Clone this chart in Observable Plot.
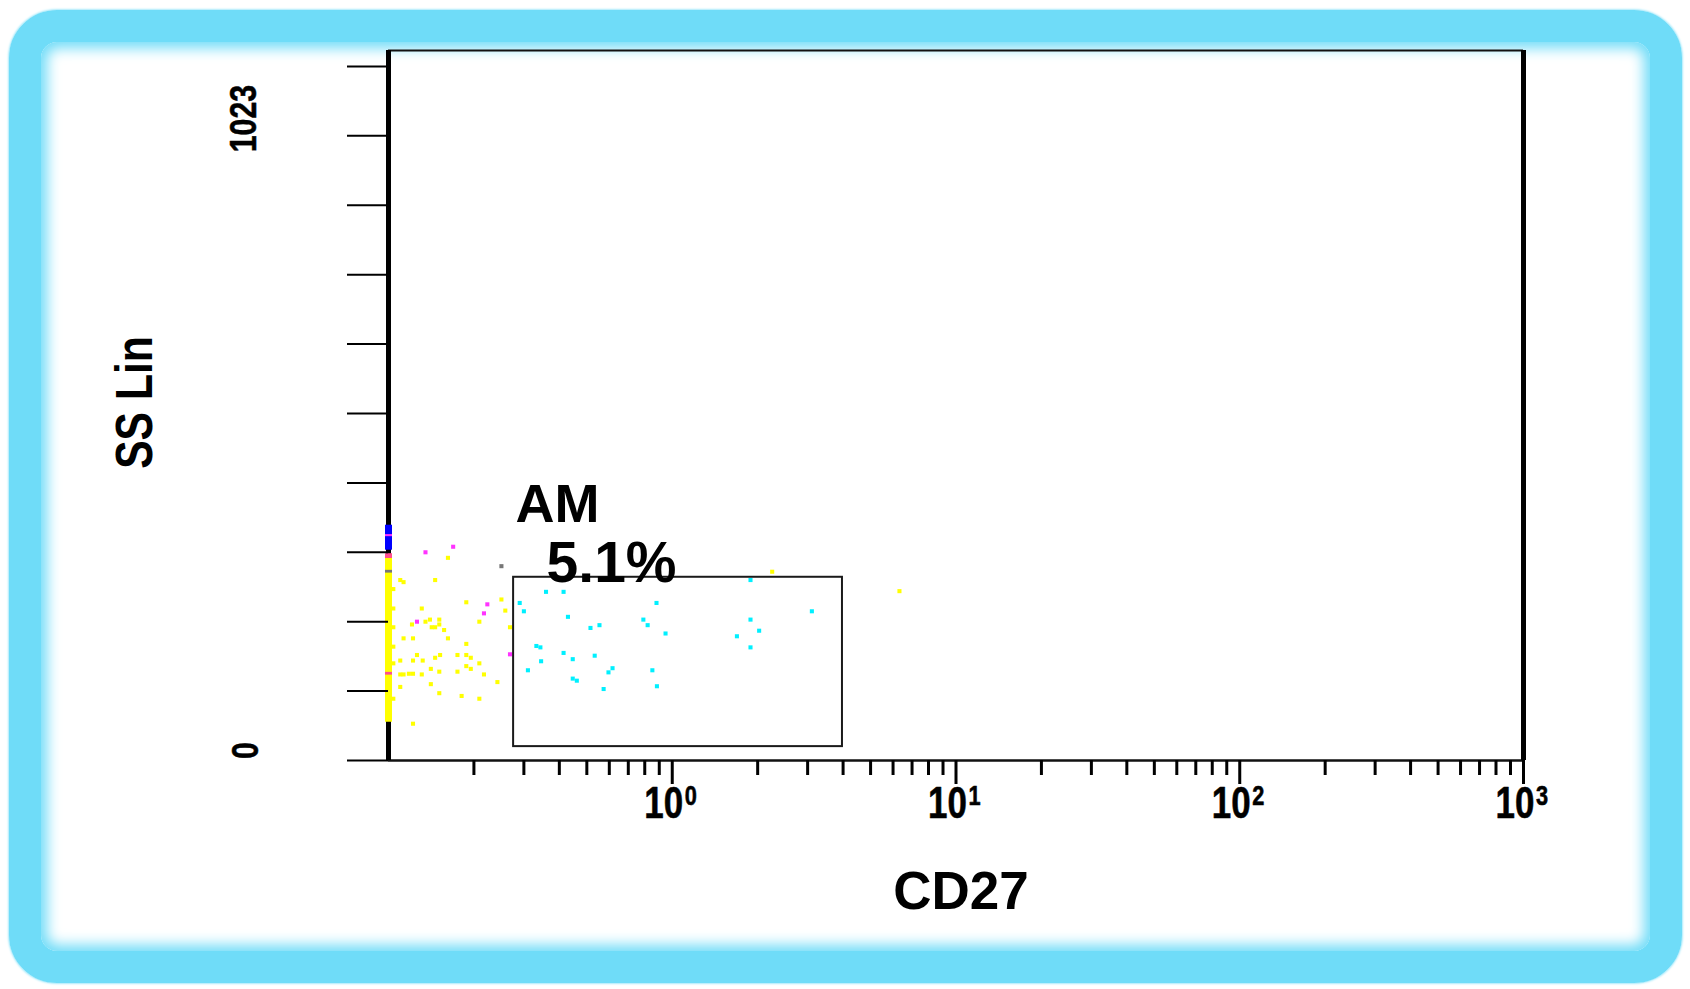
<!DOCTYPE html>
<html>
<head>
<meta charset="utf-8">
<script src="https://cdn.jsdelivr.net/npm/d3@7"></script>
<script src="https://cdn.jsdelivr.net/npm/@observablehq/plot@0.6"></script>
<style>
  html, body { margin: 0; padding: 0; background: #ffffff; }
  #wrap { position: relative; width: 1690px; height: 989px; overflow: hidden; background: #ffffff; }
  #border {
    position: absolute; left: 9px; top: 10px; width: 1673px; height: 973px;
    box-sizing: border-box; border: 32px solid #6fdcf8; border-radius: 48px;
    box-shadow: inset 0 0 14px 6px #6fdcf8, 0 0 2px 1px #a8eafb;
  }
  #chart { position: absolute; left: 0; top: 0; }
</style>
</head>
<body>
<div id="wrap"><div id="border"></div><div id="chart"></div></div>
<script>
// ---------- data ----------
const xLabel = "CD27";
const yLabel = "SS Lin";
const xDomain = [0.1, 1000];
const yDomain = [0, 1023];
const yTicks = [0, 100, 200, 300, 400, 500, 600, 700, 800, 900, 1000];
const yTickLabelLow = [0];
const yTickLabelHigh = [1023];
const decades = [1, 10, 100, 1000];
const exponents = ["0", "1", "2", "3"];
const minorBases = [0.1, 1, 10, 100];
const minorSteps = [2, 3, 4, 5, 6, 7, 8, 9];

// gate
const gates = [{name: "AM", pct: "5.1%", x1: 0.276, x2: 3.98, y1: 20, y2: 264}];

// events [CD27, SS Lin]
const yellowEvents = [
  [0.162,292],[0.110,260],[0.113,257],[0.146,260],[0.104,247],[0.188,228],[0.250,232],[0.258,216],
  [0.131,219],[0.104,219],[0.140,203],[0.135,200],[0.151,203],[0.121,196],[0.142,192],[0.146,192],
  [0.151,196],[0.157,188],[0.209,200],[0.268,192],[0.104,192],[0.113,176],[0.122,176],[0.162,176],
  [0.188,168],[0.104,164],[0.126,152],[0.146,148],[0.152,152],[0.175,152],[0.188,152],[0.195,148],
  [0.110,144],[0.122,144],[0.132,144],[0.209,140],[0.104,140],[0.141,132],[0.151,128],[0.175,128],
  [0.188,136],[0.195,132],[0.217,124],[0.110,124],[0.113,124],[0.118,125],[0.122,125],[0.131,124],
  [0.110,106],[0.141,110],[0.242,113],[0.104,89],[0.151,97],[0.181,93],[0.209,89],[0.122,53],
  [2.25,272],[6.32,244]
];
const cyanEvents = [
  [0.359,243],[0.414,243],[0.290,227],[0.300,215],[0.429,207],[0.880,227],[1.887,260],[3.105,215],
  [0.515,191],[0.554,195],[0.791,203],[0.819,195],[0.947,183],[1.887,203],[2.024,187],[1.690,179],
  [1.887,163],[0.332,165],[0.343,163],[0.414,155],[0.446,146],[0.533,151],[0.345,143],[0.310,130],
  [0.446,118],[0.461,115],[0.596,127],[0.616,133],[0.851,130],[0.883,107],[0.573,103]
];
const magentaEvents = [[0.135,300],[0.169,308],[0.223,225],[0.217,212],[0.126,200],[0.268,153]];
const greyEvents = [[0.250,280]];

// events piled on the CD27 minimum (on-axis), as SS Lin ranges
const axisPile = [
  {pop: "P1", y1: 55, y2: 291},
  {pop: "P3", y1: 303, y2: 339},
  {pop: "P2", y1: 322.5, y2: 325.5},
  {pop: "P4", y1: 291, y2: 298},
  {pop: "P5", y1: 270, y2: 274},
  {pop: "P4", y1: 123, y2: 127}
];

const popNames = ["P1", "AM", "P2", "P3", "P4", "P5"];
const popColors = ["#ffff00", "#00f0ff", "#ff33ff", "#0000ff", "#ff4f8f", "#777777"];

// ---------- chart ----------
const minorTicks = minorBases.flatMap(b => minorSteps.map(s => b * s));
const font = "'Liberation Sans', Arial, Helvetica, sans-serif";

const toPts = (arr, pop) => arr.map(([x, y]) => ({x, y, pop}));
const events = [
  ...toPts(yellowEvents, "P1"),
  ...toPts(magentaEvents, "P2"),
  ...toPts(greyEvents, "P5"),
  ...toPts(cyanEvents, "AM")
];

const chart = Plot.plot({
  width: 1690,
  height: 989,
  marginLeft: 388,
  marginRight: 167,
  marginTop: 50,
  marginBottom: 229,
  style: {background: "transparent", color: "#000", overflow: "visible", fontFamily: font},
  x: {type: "log", domain: xDomain},
  y: {domain: yDomain},
  color: {domain: popNames, range: popColors},
  marks: [
    // gate
    Plot.rect(gates, {x1: "x1", x2: "x2", y1: "y1", y2: "y2", fill: "none", stroke: "#1a1a1a", strokeWidth: 2}),
    // events
    Plot.dot(events, {x: "x", y: "y", fill: "pop", symbol: "square", r: 2.3}),
    // frame
    Plot.ruleY([yDomain[1]], {stroke: "#111", strokeWidth: 2}),
    Plot.ruleY([0], {stroke: "#111", strokeWidth: 2.5}),
    Plot.ruleX([xDomain[1]], {stroke: "#000", strokeWidth: 5}),
    Plot.ruleX([xDomain[0]], {stroke: "#000", strokeWidth: 5}),
    // on-axis pile
    Plot.ruleX(axisPile, {x: xDomain[0], y1: "y1", y2: "y2", stroke: "pop", strokeWidth: 7}),
    // axes ticks
    Plot.axisY(yTicks, {tickSize: 41, tickFormat: () => "", label: null, strokeWidth: 2}),
    Plot.axisX(minorTicks, {tickSize: 15, tickFormat: () => "", label: null, strokeWidth: 3}),
    Plot.axisX(decades, {tickSize: 24, tickFormat: () => "", label: null, strokeWidth: 3}),
    // x tick labels 10^k (exponent becomes a raised tspan below)
    Plot.text(decades, {x: d => d, text: (d, i) => "10" + exponents[i], frameAnchor: "bottom", textAnchor: "start", lineAnchor: "bottom",
      dx: -28, dy: 57, fontSize: 45, fontWeight: "bold", fill: "#000", stroke: "#000", strokeWidth: 0.6, className: "xtick"}),
    // y tick labels
    Plot.text(yTickLabelLow, {y: d => d, text: d => String(d), frameAnchor: "left", rotate: -90, textAnchor: "middle", lineAnchor: "bottom",
      dx: -131, dy: -10, fontSize: 37, fontWeight: "bold", fill: "#000", stroke: "#000", strokeWidth: 0.5, className: "narrow"}),
    Plot.text(yTickLabelHigh, {y: d => d, text: d => String(d), frameAnchor: "left", rotate: -90, textAnchor: "middle", lineAnchor: "bottom",
      dx: -133, dy: 68, fontSize: 37, fontWeight: "bold", fill: "#000", stroke: "#000", strokeWidth: 0.5, className: "narrow"}),
    // axis labels
    Plot.text([xLabel], {frameAnchor: "bottom", lineAnchor: "bottom", dx: 5, dy: 148, fontSize: 53, fontWeight: "bold"}),
    Plot.text([yLabel], {frameAnchor: "left", rotate: -90, textAnchor: "middle", lineAnchor: "bottom", dx: -237, dy: -3,
      fontSize: 52, fontWeight: "bold", className: "narrow"}),
    // gate labels
    Plot.text(gates, {x: "x1", y: "y2", text: "name", textAnchor: "start", lineAnchor: "bottom", dx: 2, dy: -55,
      fontSize: 54, fontWeight: "bold"}),
    Plot.text(gates, {x: "x1", y: "y2", text: "pct", textAnchor: "start", lineAnchor: "bottom", dx: 33, dy: 5,
      fontSize: 57, fontWeight: "bold"})
  ]
});
document.getElementById("chart").appendChild(chart);

// raise the exponent of each 10^k label
d3.select(chart).selectAll("g.xtick text").each(function () {
  const s = this.textContent;
  this.textContent = s.slice(0, 2);
  d3.select(this).append("tspan").attr("dx", 2).attr("dy", -13).attr("font-size", 28).text(s.slice(2));
});

// condensed face for tick labels and the SS label
function condense(sel, k) {
  d3.select(chart).selectAll(sel).each(function () {
    const w = this.getComputedTextLength();
    this.setAttribute("textLength", (w * k).toFixed(1));
    this.setAttribute("lengthAdjust", "spacingAndGlyphs");
  });
}
condense("g.narrow text", 0.82);
condense("g.xtick text", 0.8);
</script>
</body>
</html>
